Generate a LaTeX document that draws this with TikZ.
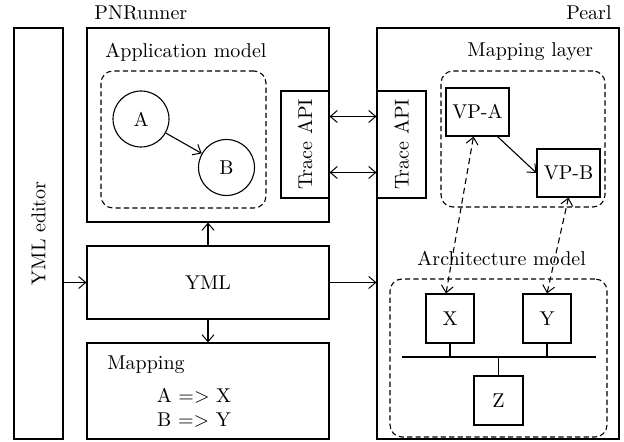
\documentclass[tikz,border=0pt]{standalone}
\usepackage{fontspec}
\usetikzlibrary{arrows.meta}

\tikzset{
    >={Straight Barb[length=3.5pt, width=6pt, line width=0.5pt]},
    block/.style={draw, line width=0.55pt, inner sep=0pt},
    dashbox/.style={draw, dash pattern=on 2.6pt off 1.6pt, rounded corners=6pt, line width=0.55pt},
    place/.style={draw, circle, line width=0.55pt, minimum size=28pt, inner sep=0pt},
    title/.style={inner sep=0pt},
    conn/.style={->, line width=0.55pt},
    dashconn/.style={<->, line width=0.55pt, dash pattern=on 3pt off 2pt},
}

\begin{document}
\begin{tikzpicture}[x=0.5pt, y=-0.5pt]
        \useasboundingbox (0,0) rectangle (624,442);
        % left side
        \node[block, rotate=90, minimum width=205.5pt, minimum height=24.5pt] (editor) at (38.5,233.5) {YML editor};
        \node[title, anchor=west] (pnrunner) at (94,13) {PNRunner};
        \node[block, minimum width=121pt, minimum height=97pt] (appmodel) at (208,125) {};
        \node[title, anchor=west] (apptitle) at (105,52) {Application model};
        \node[dashbox, minimum width=82.5pt, minimum height=68.5pt] (appnet) at (183.5,139.5) {};
        \node[place] (a) at (141,119) {A};
        \node[place] (b) at (226.5,167.5) {B};
        \node[block, rotate=90, minimum width=53.5pt, minimum height=24pt] (traceL) at (305,144.5) {Trace API};
        \node[block, minimum width=121pt, minimum height=36.5pt] (yml) at (208,282.5) {YML};
        \node[block, minimum width=121pt, minimum height=48pt] (mapping) at (208,391) {};
        \node[title, anchor=west] (maptitle) at (107,365) {Mapping};
        \node[title] (mapa) at (194,396) {A => X};
        \node[title] (mapb) at (194,420) {B => Y};
        % right side
        \node[block, minimum width=121pt, minimum height=205.5pt] (pearl) at (498,233.5) {};
        \node[title, anchor=east] (pearltitle) at (612,13) {Pearl};
        \node[block, rotate=90, minimum width=53.5pt, minimum height=24.5pt] (traceR) at (401.5,144.5) {Trace API};
        \node[title, anchor=west] (layertitle) at (467,52) {Mapping layer};
        \node[dashbox, minimum width=82pt, minimum height=68pt] (layer) at (523,139) {};
        \node[block, minimum width=31.5pt, minimum height=24pt] (vpa) at (477.5,112) {VP-A};
        \node[block, minimum width=31.5pt, minimum height=24pt] (vpb) at (568.5,173) {VP-B};
        \node[title, anchor=west] (archtitle) at (417,258) {Architecture model};
        \node[dashbox, minimum width=108.5pt, minimum height=79pt] (arch) at (498.5,358) {};
        \node[block, minimum width=24pt, minimum height=24.5pt] (x) at (450,318.5) {X};
        \node[block, minimum width=24pt, minimum height=24.5pt] (y) at (547,318.5) {Y};
        \node[block, minimum width=24.5pt, minimum height=24.5pt] (z) at (498.5,400.5) {Z};
        \coordinate (busL) at (402,357);
        \coordinate (busR) at (596,357);

        % connectors
        \draw[conn] (a) -- (b);
        \draw[conn] ([xshift=10pt]vpa.south) -- (vpb.west);
        \draw[conn] (editor.south |- yml.west) -- (yml.west);
        \draw[conn] (yml.north) -- (appmodel.south);
        \draw[conn] (yml.south) -- (mapping.north);
        \draw[conn] (yml.east) -- (pearl.west |- yml.east);
        \draw[conn, <->] ([yshift=14pt]traceL.south) -- ([yshift=14pt]traceR.north);
        \draw[conn, <->] ([yshift=-14pt]traceL.south) -- ([yshift=-14pt]traceR.north);
        \draw[dashconn] ([xshift=-2pt]x.north) -- ([xshift=-2pt]vpa.south);
        \draw[dashconn] (y.north) -- (vpb.south);
        \draw[line width=0.55pt] (busL) -- (busR);
        \draw[line width=0.55pt] (x.south) -- (x.south |- busL);
        \draw[line width=0.55pt] (y.south) -- (y.south |- busL);
        \draw[line width=0.55pt] (z.north) -- (z.north |- busL);
    \end{tikzpicture}
\end{document}
